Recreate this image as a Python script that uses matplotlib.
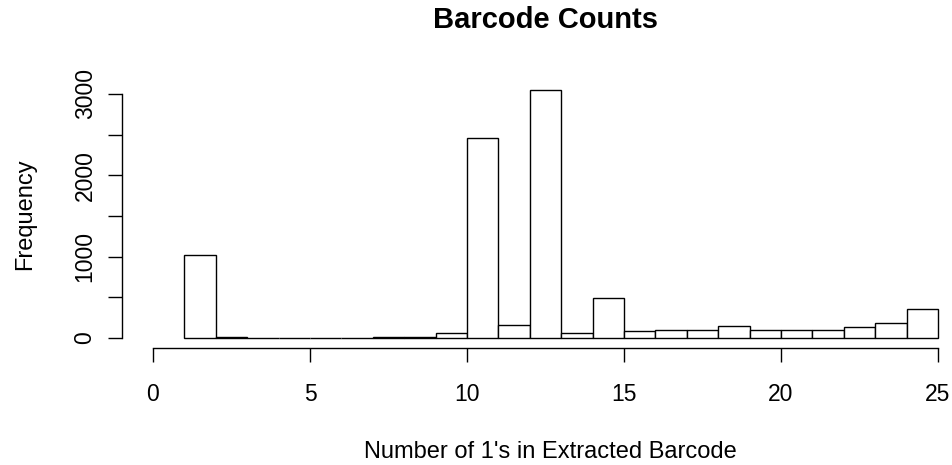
import matplotlib
matplotlib.use("Agg")
import matplotlib.pyplot as plt
import numpy as np

plt.rcParams['font.family'] = ['Liberation Sans', 'DejaVu Sans']

bin_edges = list(range(1, 26))
counts = [1015, 15, 0, 0, 0, 0, 10, 10, 68, 2456, 156, 3050, 62, 488, 83, 102,
          105, 145, 105, 105, 105, 138, 182, 363]
x_ticks = [0, 5, 10, 15, 20, 25]
y_ticks = [0, 500, 1000, 1500, 2000, 2500, 3000]
y_labels = ['0', '', '1000', '', '2000', '', '3000']

W, H = 953, 465
fig = plt.figure(figsize=(W / 100, H / 100), dpi=100)
left_px, right_px = 121.6, 969.4
top_px, bot_px = 80, 348
ax = fig.add_axes([left_px / W, 1 - bot_px / H, (right_px - left_px) / W, (bot_px - top_px) / H])

lefts = np.array(bin_edges[:-1])
widths = np.diff(bin_edges)
ax.bar(lefts, counts, width=widths, align='edge', color='white', edgecolor='black', linewidth=1.0)

ax.set_xlim(-1, 26)
ax.set_ylim(-122, 3172)
for s in ['top', 'right']:
    ax.spines[s].set_visible(False)
ax.spines['left'].set_bounds(0, 3000)
ax.spines['bottom'].set_bounds(0, 25)
for s in ['left', 'bottom']:
    ax.spines[s].set_linewidth(1.0)
ax.set_xticks(x_ticks)
ax.set_xticklabels([str(v) for v in x_ticks])
ax.set_yticks(y_ticks)
ax.set_yticklabels(y_labels, rotation=90, va='center')
ax.tick_params(axis='x', length=10, width=1.0, pad=15, labelsize=16.5)
ax.tick_params(axis='y', length=10, width=1.0, pad=8, labelsize=16.5)

fig.text(550 / W, 1 - 452 / H, "Number of 1's in Extracted Barcode", fontsize=17, ha='center', va='center')
fig.text(25 / W, 1 - 214 / H, "Frequency", fontsize=17, ha='center', va='center', rotation=90)
fig.text(545.5 / W, 1 - 20 / H, "Barcode Counts", fontsize=21, fontweight='bold', ha='center', va='center')

fig.savefig("out.png", dpi=100)
